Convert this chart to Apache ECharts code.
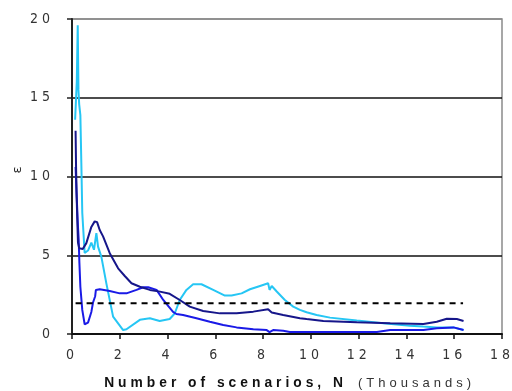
<!DOCTYPE html>
<html>
<head>
<meta charset="utf-8">
<script src="https://cdn.jsdelivr.net/npm/echarts@6/dist/echarts.min.js"></script>
<style>
  html, body { margin: 0; padding: 0; background: #fff; }
  #chart { width: 512px; height: 391px; }
</style>
</head>
<body>
<div id="chart"></div>
<script>
// Error epsilon against number of scenarios N (thousands), three runs plus the target level
const xTicks = [0, 2, 4, 6, 8, 10, 12, 14, 16, 18];
const yTicks = [0, 5, 10, 15, 20];
const xTitleBold = 'Number of scenarios, N';
const xTitleUnit = '(Thousands)';
const yTitle = 'ε';

const runCyan = [
  [0.13, 13.6], [0.20, 16.0], [0.24, 19.6], [0.27, 15.5], [0.30, 14.6], [0.35, 13.9],
  [0.39, 10.9], [0.43, 7.7], [0.53, 5.15], [0.67, 5.3], [0.81, 5.8], [0.92, 5.35],
  [1.02, 6.4], [1.09, 5.55], [1.23, 4.9], [1.44, 3.2], [1.72, 1.1], [2.14, 0.25],
  [2.28, 0.3], [2.84, 0.9], [3.26, 1.0], [3.67, 0.83], [4.09, 0.95], [4.30, 1.3],
  [4.51, 2.16], [4.79, 2.8], [5.07, 3.16], [5.42, 3.16], [5.91, 2.8], [6.40, 2.44],
  [6.68, 2.44], [7.10, 2.58], [7.45, 2.84], [7.87, 3.05], [8.21, 3.22], [8.27, 2.8],
  [8.36, 3.05], [8.57, 2.7], [8.91, 2.16], [9.26, 1.74], [9.54, 1.53], [9.82, 1.38],
  [10.24, 1.21], [10.80, 1.04], [11.92, 0.85], [13.03, 0.68], [14.15, 0.53],
  [14.70, 0.47], [15.27, 0.42], [15.97, 0.42], [16.39, 0.25]
];

const runNavy = [
  [0.15, 12.9], [0.17, 10.6], [0.19, 9.0], [0.22, 7.3], [0.25, 5.8], [0.30, 5.45],
  [0.45, 5.4], [0.60, 5.77], [0.81, 6.8], [0.95, 7.15], [1.05, 7.1], [1.16, 6.6],
  [1.30, 6.2], [1.58, 5.13], [1.93, 4.17], [2.20, 3.7], [2.49, 3.22], [2.84, 3.0],
  [3.26, 2.8], [3.68, 2.69], [4.09, 2.55], [4.51, 2.16], [4.93, 1.74], [5.49, 1.46],
  [6.19, 1.31], [6.89, 1.31], [7.59, 1.42], [8.21, 1.57], [8.36, 1.36], [8.84, 1.21],
  [9.54, 1.0], [9.82, 0.95], [10.52, 0.83], [11.92, 0.74], [13.32, 0.68],
  [14.71, 0.64], [15.27, 0.78], [15.69, 0.97], [16.11, 0.95], [16.39, 0.83]
];

const runBlue = [
  [0.15, 10.6], [0.20, 8.6], [0.25, 6.8], [0.28, 6.0], [0.31, 4.5], [0.35, 3.0],
  [0.43, 1.53], [0.53, 0.62], [0.67, 0.72], [0.81, 1.4], [0.88, 2.0], [0.97, 2.4],
  [1.00, 2.8], [1.16, 2.84], [1.58, 2.73], [2.00, 2.58], [2.28, 2.58], [2.70, 2.8],
  [2.98, 2.97], [3.19, 2.97], [3.54, 2.8], [3.82, 2.16], [4.23, 1.4], [4.37, 1.27],
  [4.65, 1.21], [5.21, 1.0], [5.77, 0.78], [6.33, 0.57], [6.89, 0.42], [7.59, 0.3],
  [8.15, 0.25], [8.27, 0.12], [8.42, 0.25], [8.84, 0.2], [9.12, 0.13], [10.50, 0.13],
  [12.76, 0.13], [13.32, 0.25], [14.71, 0.25], [15.27, 0.36], [15.97, 0.42], [16.39, 0.25]
];

const targetLevel = [[0.15, 1.96], [16.37, 1.96]];

const tickFont = '"Liberation Sans Narrow", "DejaVu Sans Condensed", "Liberation Sans", sans-serif';
const titleFont = '"Liberation Sans", Arial, sans-serif';

const option = {
  animation: false,
  backgroundColor: '#fff',
  grid: {
    left: 72, right: 10, top: 19, bottom: 57,
    outerBoundsMode: 'none',
    containLabel: false,
    show: true, borderColor: '#8a8a8a', borderWidth: 1.5
  },
  xAxis: {
    type: 'value',
    min: xTicks[0], max: xTicks[xTicks.length - 1], interval: 2,
    axisLine: { show: true, onZero: false, lineStyle: { color: '#111', width: 2 } },
    axisTick: { show: true, inside: false, length: 5, lineStyle: { color: '#111', width: 1.5 } },
    splitLine: { show: false },
    axisLabel: { margin: 14, color: '#333', fontSize: 14, fontFamily: tickFont }
  },
  yAxis: {
    type: 'value',
    min: yTicks[0], max: yTicks[yTicks.length - 1], interval: 5,
    axisLine: { show: true, lineStyle: { color: '#222', width: 2 } },
    axisTick: { show: true, inside: false, length: 5, lineStyle: { color: '#222', width: 1.5 } },
    splitLine: { show: true, lineStyle: { color: ['#111', '#111', '#111', '#111', '#8a8a8a'], width: 1.5 } },
    axisLabel: { margin: 18, color: '#333', fontSize: 14, fontFamily: tickFont }
  },
  graphic: [
    {
      type: 'text', x: 347, y: 383,
      style: { text: xTitleBold, align: 'right', verticalAlign: 'middle',
               font: 'bold 13.8px ' + titleFont, fill: '#111' }
    },
    {
      type: 'text', x: 358, y: 383,
      style: { text: xTitleUnit, align: 'left', verticalAlign: 'middle',
               font: '13px ' + titleFont, fill: '#333' }
    },
    {
      type: 'text', x: 18, y: 168, rotation: Math.PI / 2,
      style: { text: yTitle, align: 'center', verticalAlign: 'middle',
               font: '13px "DejaVu Sans", sans-serif', fill: '#222' }
    }
  ],
  series: [
    {
      type: 'line', data: runCyan, showSymbol: false, symbol: 'none',
      lineStyle: { color: '#26C6F4', width: 2 }, z: 2
    },
    {
      type: 'line', data: runBlue, showSymbol: false, symbol: 'none',
      lineStyle: { color: '#1A1AE6', width: 2 }, z: 3
    },
    {
      type: 'line', data: runNavy, showSymbol: false, symbol: 'none',
      lineStyle: { color: '#16168A', width: 2 }, z: 4
    },
    {
      type: 'line', data: targetLevel, showSymbol: false, symbol: 'none',
      lineStyle: { color: '#000', width: 2, type: [6, 5] }, z: 5
    }
  ]
};

const chart = echarts.init(document.getElementById('chart'), null, { renderer: 'canvas' });
chart.setOption(option);

// Widely spaced lettering for all axis text
const zr = chart.getZr();
zr.refreshImmediately();
const layers = zr.painter.getLayers ? zr.painter.getLayers() : {};
Object.keys(layers).forEach(function (k) {
  const layer = layers[k];
  if (layer && layer.ctx) layer.ctx.letterSpacing = '4px';
});
zr.painter.refresh(true);
</script>
</body>
</html>
